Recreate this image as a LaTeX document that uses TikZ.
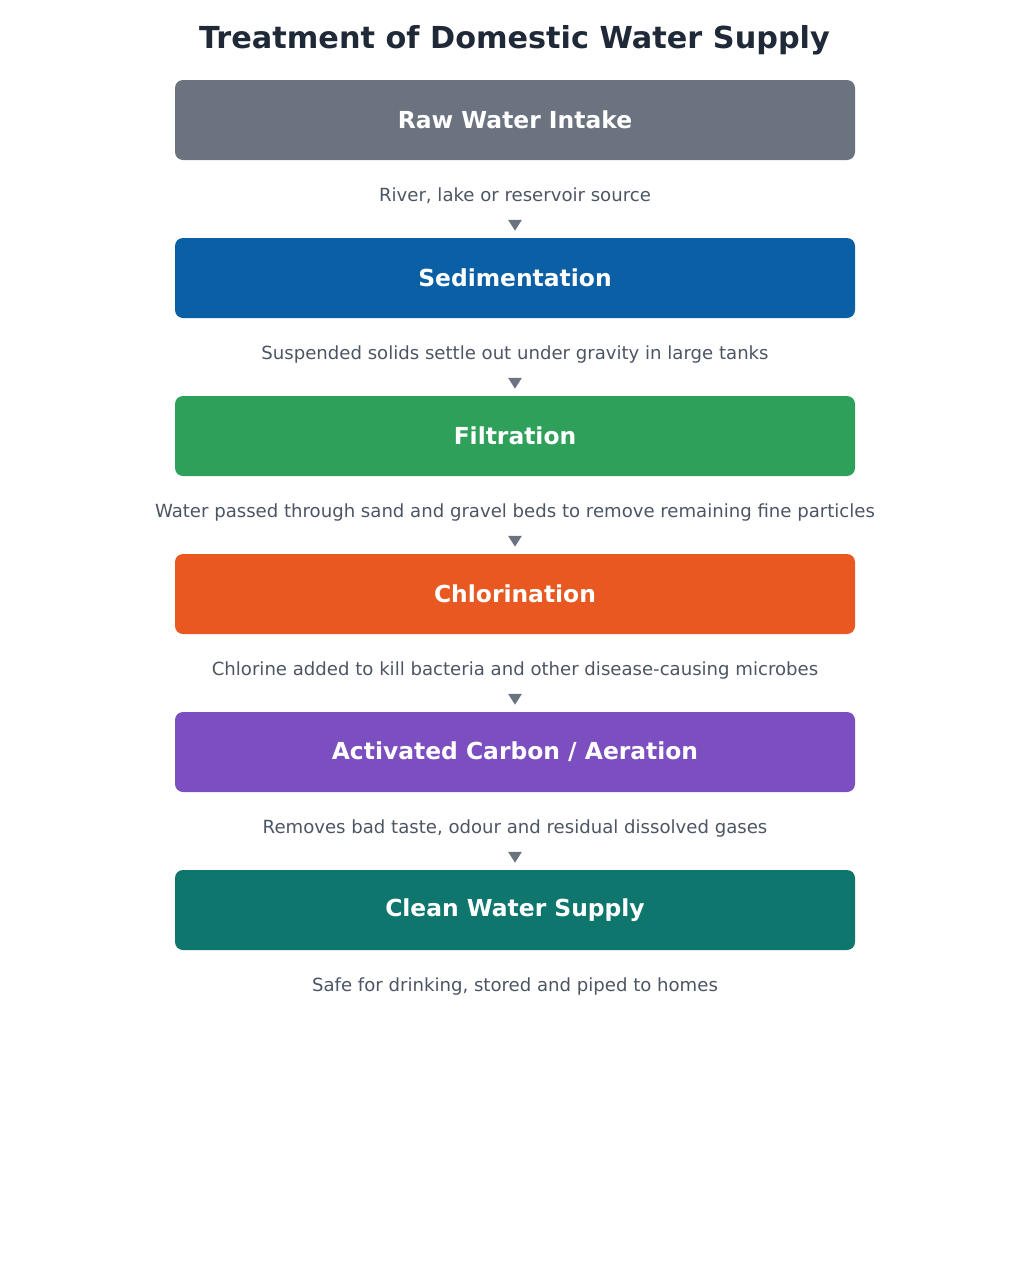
\documentclass[tikz,border=0pt]{standalone}
\usepackage{fontspec}
\setmainfont{DejaVu Sans}
\usetikzlibrary{arrows.meta}
\definecolor{cgray}{HTML}{6B7280}
\definecolor{cblue}{HTML}{0B5FA5}
\definecolor{cgreen}{HTML}{2EA05A}
\definecolor{corange}{HTML}{E85820}
\definecolor{cpurple}{HTML}{7B4FBF}
\definecolor{cteal}{HTML}{0F766E}
\definecolor{ctitle}{HTML}{1F2937}
\definecolor{clabel}{HTML}{4B5563}
\tikzset{
  stagebox/.style={rounded corners=8pt, minimum width=680pt, minimum height=80pt, inner sep=0pt,
    text=white, font=\fontsize{23.4}{26}\selectfont\bfseries},
  desc/.style={inner sep=0pt, text=clabel, font=\fontsize{18.1}{21}\selectfont, text height=13pt, text depth=4pt},
  arr/.style={draw=cgray, line width=3pt, -{Triangle[width=13pt,length=11pt]}, shorten <=16pt, shorten >=7pt}
}
\begin{document}
\begin{tikzpicture}[x=1pt,y=-1pt]
\useasboundingbox (0,0) rectangle (1029,1277);
\node[text=ctitle, font=\fontsize{30.3}{34}\selectfont\bfseries] (title) at (514.5,40) {Treatment of Domestic Water Supply};
\node[stagebox, fill=cgray] (b1) at (515,120) {Raw Water Intake};
\node[desc] (l1) at (515,197) {River, lake or reservoir source};
\node[stagebox, fill=cblue] (b2) at (515,278) {Sedimentation};
\node[desc] (l2) at (515,355) {Suspended solids settle out under gravity in large tanks};
\node[stagebox, fill=cgreen] (b3) at (515,436) {Filtration};
\node[desc] (l3) at (515,513) {Water passed through sand and gravel beds to remove remaining fine particles};
\node[stagebox, fill=corange] (b4) at (515,594) {Chlorination};
\node[desc] (l4) at (515,671) {Chlorine added to kill bacteria and other disease-causing microbes};
\node[stagebox, fill=cpurple] (b5) at (515,752) {Activated Carbon / Aeration};
\node[desc] (l5) at (515,829) {Removes bad taste, odour and residual dissolved gases};
\node[stagebox, fill=cteal] (b6) at (515,910) {Clean Water Supply};
\node[desc] (l6) at (515,987) {Safe for drinking, stored and piped to homes};
\draw[arr] (l1.south) -- (b2.north);
\draw[arr] (l2.south) -- (b3.north);
\draw[arr] (l3.south) -- (b4.north);
\draw[arr] (l4.south) -- (b5.north);
\draw[arr] (l5.south) -- (b6.north);
\end{tikzpicture}
\end{document}
